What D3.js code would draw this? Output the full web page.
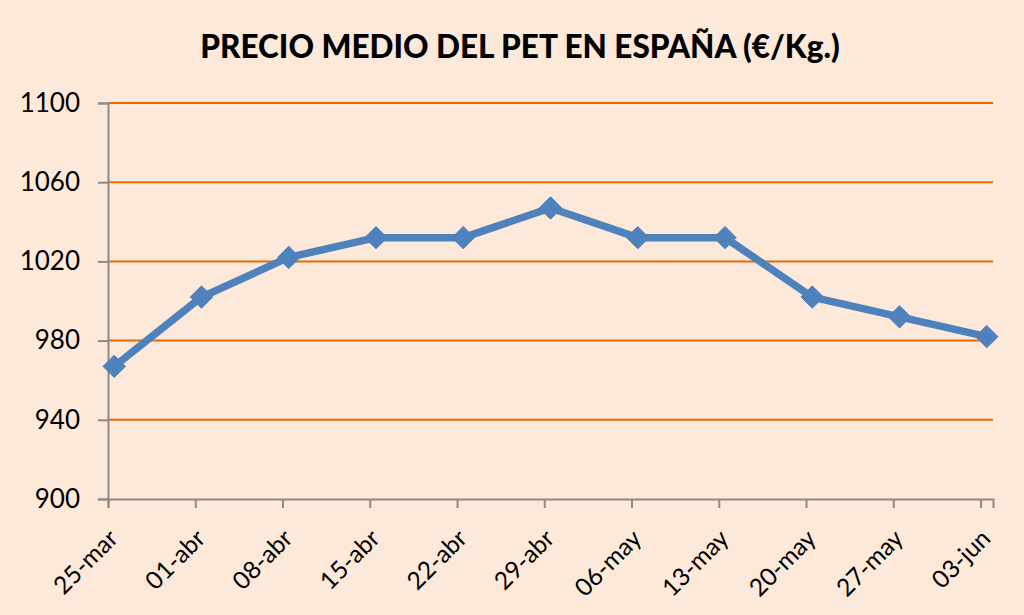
<!DOCTYPE html>
<html><head><meta charset="utf-8">
<script src="https://cdn.jsdelivr.net/npm/d3@7"></script>
<style>
html,body{margin:0;padding:0;background:#FDE9D9;}
svg{display:block;}
</style></head>
<body>
<svg id="chart" width="1024" height="615"></svg>
<script>
const title = "PRECIO MEDIO DEL PET EN ESPAÑA (€/Kg.)";
const categories = ["25-mar","01-abr","08-abr","15-abr","22-abr","29-abr","06-may","13-may","20-may","27-may","03-jun"];
const dayOffsets = [0,7,14,21,28,35,42,49,56,63,70];
const values = [967,1002,1022,1032,1032,1047,1032,1032,1002,992,982];
const yTicks = [900,940,980,1020,1060,1100];

const svg = d3.select("#chart");
const W = 1024, H = 615;
const m = {left:108, right:31, top:103, bottom:116};

svg.append("rect").attr("width",W).attr("height",H).attr("fill","#FDE9D9");

const x = d3.scaleLinear().domain([0,71]).range([m.left, W-m.right]);
const y = d3.scaleLinear().domain([900,1100]).range([H-m.bottom, m.top]);

// gridlines
svg.append("g").selectAll("line").data(yTicks.slice(1)).join("line")
  .attr("x1",m.left).attr("x2",W-m.right)
  .attr("y1",d=>y(d)).attr("y2",d=>y(d))
  .attr("stroke","#E46C0A").attr("stroke-width",2);

// y axis
const yAxis = svg.append("g").attr("transform",`translate(${m.left},0)`)
  .call(d3.axisLeft(y).tickValues(yTicks).tickSize(10).tickPadding(18).tickFormat(d3.format("d")));
yAxis.select(".domain").attr("stroke","#8C8C8C").attr("stroke-width",2);
yAxis.selectAll(".tick line").attr("stroke","#8C8C8C").attr("stroke-width",2);
yAxis.selectAll(".tick text").attr("font-family","Lato, 'Open Sans', sans-serif").attr("font-size",26).attr("fill","#000");

// x axis
const xAxis = svg.append("g").attr("transform",`translate(0,${H-m.bottom})`)
  .call(d3.axisBottom(x).tickValues(dayOffsets).tickSize(9).tickFormat((d,i)=>categories[i]));
xAxis.select(".domain").attr("stroke","#8C8C8C").attr("stroke-width",2);
xAxis.selectAll(".tick line").attr("stroke","#8C8C8C").attr("stroke-width",2);
xAxis.selectAll(".tick text")
  .attr("font-family","Lato, 'Open Sans', sans-serif").attr("font-size",24.5).attr("fill","#000")
  .attr("text-anchor","end").attr("dy",null).attr("y",null)
  .attr("transform","translate(11,41) rotate(-45)");

// line
const line = d3.line().x((d,i)=>x(dayOffsets[i]+0.5)).y(d=>y(d));
svg.append("path").datum(values).attr("d",line)
  .attr("fill","none").attr("stroke","#4F81BD").attr("stroke-width",7.5).attr("stroke-linejoin","round");

// markers
const sym = d3.symbol().type(d3.symbolDiamond2).size(320);
svg.append("g").selectAll("path").data(values).join("path")
  .attr("d",sym)
  .attr("transform",(d,i)=>`translate(${x(dayOffsets[i]+0.5)},${y(d)})`)
  .attr("fill","#4F81BD").attr("stroke","#4F81BD").attr("stroke-width",1);

// title
svg.append("text").attr("x",520).attr("y",58).attr("text-anchor","middle")
  .attr("font-family","Lato, 'Open Sans', sans-serif").attr("font-weight","900").attr("font-size",31.5)
  .attr("fill","#000").text(title);
</script>
</body></html>
